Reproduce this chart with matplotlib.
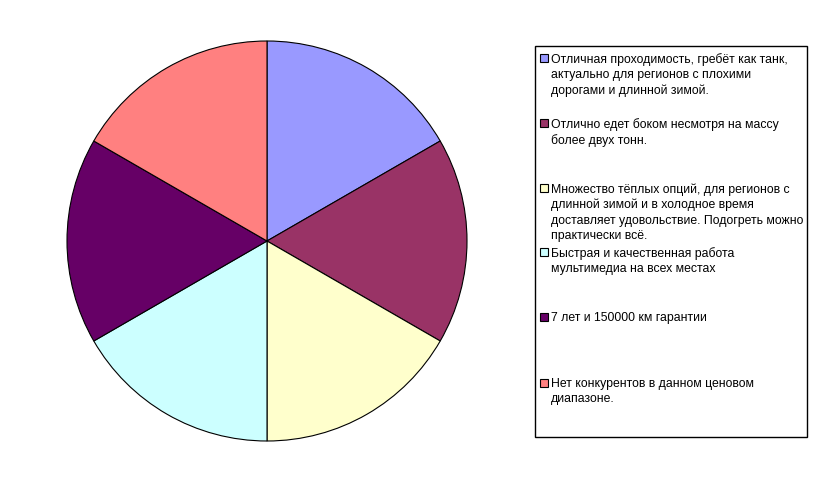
import matplotlib.pyplot as plt
from matplotlib.patches import Rectangle

labels = [
    "Отличная проходимость, гребёт как танк,\nактуально для регионов с плохими\nдорогами и длинной зимой.",
    "Отлично едет боком несмотря на массу\nболее двух тонн.",
    "Множество тёплых опций, для регионов с\nдлинной зимой и в холодное время\nдоставляет удовольствие. Подогреть можно\nпрактически всё.",
    "Быстрая и качественная работа\nмультимедиа на всех местах",
    "7 лет и 150000 км гарантии",
    "Нет конкурентов в данном ценовом\nдиапазоне.",
]
values = [1, 1, 1, 1, 1, 1]
colors = ["#9999FF", "#993366", "#FFFFCC", "#CCFFFF", "#660066", "#FF8080"]

W, H = 813, 482
fig = plt.figure(figsize=(W / 100, H / 100), dpi=100)
fig.patch.set_facecolor("white")

# pie: centre (267, 241), radius 200 px
ax = fig.add_axes([67 / W, (H - 441) / H, 400 / W, 400 / H])
ax.pie(
    values,
    colors=colors,
    startangle=90,
    counterclock=False,
    radius=1.0,
    wedgeprops=dict(edgecolor="black", linewidth=0.8),
)
ax.set_xlim(-1.0, 1.0)
ax.set_ylim(-1.0, 1.0)
ax.set_aspect("equal")
ax.axis("off")


def px(x, y):
    return x / W, 1 - y / H


# legend box
x0, y0 = px(535, 437)
x1, y1 = px(807, 46)
fig.patches.append(
    Rectangle((x0, y0), x1 - x0, y1 - y0, transform=fig.transFigure,
              facecolor="white", edgecolor="black", linewidth=1.0)
)

first_line = [58, 123, 188, 252, 317, 383]
for lab, col, yc in zip(labels, colors, first_line):
    mx, my = px(540, yc + 4)
    fig.patches.append(
        Rectangle((mx, my), 8 / W, 8 / H, transform=fig.transFigure,
                  facecolor=col, edgecolor="black", linewidth=0.8)
    )
    tx, ty = px(551, yc - 5)
    fig.text(tx, ty, lab, ha="left", va="top", fontsize=8.8,
             family="Liberation Sans", linespacing=1.36, color="black")

fig.savefig("out.png", dpi=100)
